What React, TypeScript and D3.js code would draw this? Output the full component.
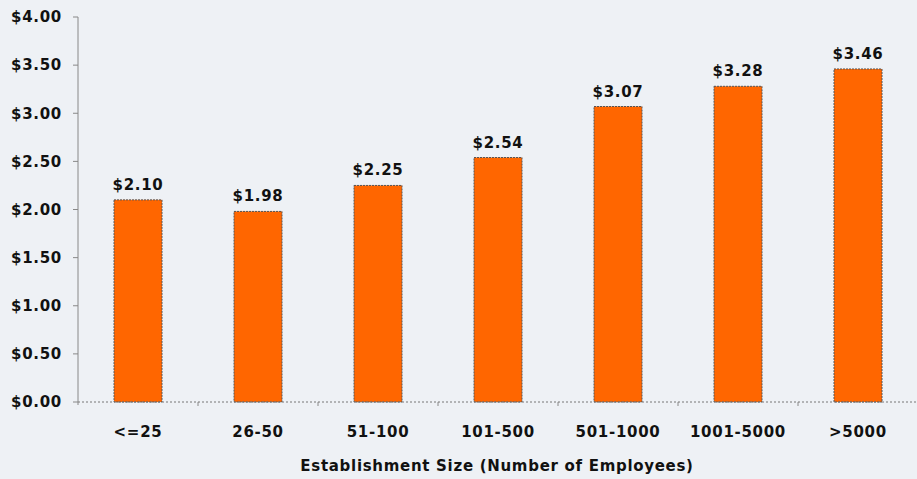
import React from "react";
import * as d3 from "d3";

const categories = ["<=25", "26-50", "51-100", "101-500", "501-1000", "1001-5000", ">5000"];
const values = [2.1, 1.98, 2.25, 2.54, 3.07, 3.28, 3.46];
const yTicks = [0, 0.5, 1, 1.5, 2, 2.5, 3, 3.5, 4];
const xTitle = "Establishment Size (Number of Employees)";

const W = 917;
const H = 479;
const left = 78;
const right = 918;
const top = 17;
const bottom = 402;

export default function App() {
  const band = d3.scaleBand<string>().domain(categories).range([left, right]);
  const y = d3.scaleLinear().domain([0, 4]).range([bottom, top]);
  const fmt = (v: number) => "$" + v.toFixed(2);
  const font = "'DejaVu Sans', Verdana, sans-serif";
  const fs = 15;
  const ls = 0.7;
  return (
    <svg width={W} height={H} style={{ position: "absolute", left: 0, top: 0, background: "#eef1f5" }} fontFamily={font}>
      <rect x={0} y={0} width={W} height={H} fill="#eef1f5" />
      {categories.map((c, i) => {
        const cx = band(c)! + band.bandwidth() / 2;
        const bw = 48;
        return (
          <g key={c}>
            <rect x={cx - bw / 2} y={y(values[i])} width={bw} height={bottom - y(values[i])} fill="#ff6600" stroke="#555" strokeWidth={1} strokeDasharray="2,1" />
            <text x={cx} y={y(values[i]) - 10} textAnchor="middle" fontSize={fs} letterSpacing={ls} fontWeight="bold" fill="#111">{fmt(values[i])}</text>
            <text x={cx} y={bottom + 35} textAnchor="middle" fontSize={fs} letterSpacing={ls} fontWeight="bold" fill="#111">{c}</text>
          </g>
        );
      })}
      {categories.slice(1).map((c) => (
        <line key={c} x1={band(c)!} x2={band(c)!} y1={bottom} y2={bottom + 4} stroke="#888" />
      ))}
      <line x1={left} x2={right} y1={bottom} y2={bottom} stroke="#777" strokeDasharray="2,2" />
      <line x1={left} x2={left} y1={top} y2={bottom + 3} stroke="#888" />
      {yTicks.map((t) => (
        <g key={t}>
          <line x1={left - 5} x2={left} y1={y(t)} y2={y(t)} stroke="#888" />
          <text x={62} y={y(t)} dy="0.35em" textAnchor="end" fontSize={fs} letterSpacing={ls} fontWeight="bold" fill="#111">{fmt(t)}</text>
        </g>
      ))}
      <text x={497} y={471} textAnchor="middle" fontSize={fs} letterSpacing={ls} fontWeight="bold" fill="#111">{xTitle}</text>
    </svg>
  );
}
